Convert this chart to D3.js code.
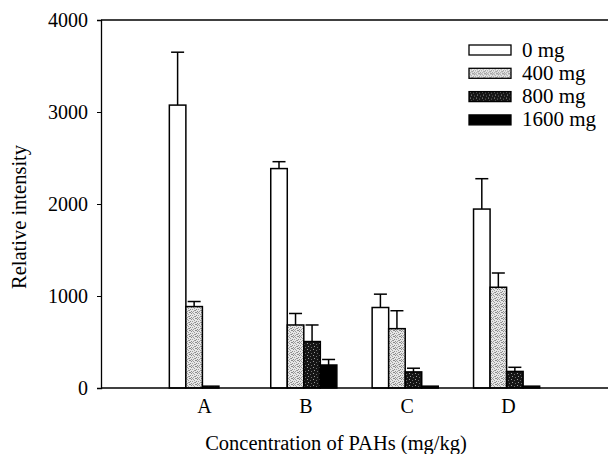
<!DOCTYPE html>
<html>

<head>
    <meta charset="utf-8">
    <script src="https://d3js.org/d3.v7.min.js"></script>
    <style>
        body { margin: 0; background: #fff; }
        text { font-family: "Liberation Serif", "Times New Roman", serif; fill: #000; }
    </style>
</head>

<body>
</body>

<script>
    // data
    let groups = ["A", "B", "C", "D"];
    let doses = ["0 mg", "400 mg", "800 mg", "1600 mg"];
    let mean0 = [3075, 2385, 875, 1945];
    let mean400 = [885, 685, 645, 1095];
    let mean800 = [20, 505, 175, 180];
    let mean1600 = [0, 250, 20, 20];
    let err0 = [575, 75, 145, 330];
    let err400 = [55, 125, 195, 155];
    let err800 = [0, 180, 40, 45];
    let err1600 = [0, 60, 0, 0];
    let yTicks = [0, 1000, 2000, 3000, 4000];

    let means = [mean0, mean400, mean800, mean1600];
    let errs = [err0, err400, err800, err1600];

    let width = 609, height = 454;
    let plotLeft = 101, plotRight = 608, plotTop = 20, plotBottom = 388;

    let svg = d3.select("body").append("svg")
        .attr("width", width)
        .attr("height", height);

    // fill textures (stipple look of the scanned print)
    let defs = svg.append("defs");
    let p400 = defs.append("pattern").attr("id", "p400")
        .attr("width", 6).attr("height", 6).attr("patternUnits", "userSpaceOnUse");
    p400.append("rect").attr("width", 6).attr("height", 6).attr("fill", "#e6e6e6");
    [[0, 0], [3, 0], [1, 1], [5, 1], [2, 2], [4, 3], [0, 3], [3, 4], [1, 5], [5, 5], [2, 4], [4, 0]]
        .forEach(([px, py], i) => {
            p400.append("rect").attr("x", px).attr("y", py).attr("width", 1).attr("height", 1)
                .attr("fill", i % 2 ? "#8a8a8a" : "#a0a0a0");
        });

    let p800 = defs.append("pattern").attr("id", "p800")
        .attr("width", 6).attr("height", 6).attr("patternUnits", "userSpaceOnUse");
    p800.append("rect").attr("width", 6).attr("height", 6).attr("fill", "#151515");
    [[1, 1], [4, 2], [2, 4], [5, 5]].forEach(([px, py], i) => {
        p800.append("rect").attr("x", px).attr("y", py).attr("width", 1).attr("height", 1)
            .attr("fill", i % 2 ? "#6a6a6a" : "#9a9a9a");
    });

    let fills = ["#fff", "url(#p400)", "url(#p800)", "#000"];

    let x = d3.scaleLinear().domain([0, 5]).range([plotLeft, plotRight]);
    let y = d3.scaleLinear().domain([0, 4000]).range([plotBottom, plotTop]);
    let bw = 0.163; // bar width in x units

    let bars = [];
    groups.forEach((g, gi) => {
        doses.forEach((d, di) => {
            bars.push({ g: gi, d: di, v: means[di][gi], e: errs[di][gi] });
        });
    });

    let barX = b => x(b.g + 1 - 2 * bw + b.d * bw);
    let barW = x(bw) - x(0);

    // error bars (upper only)
    let eb = svg.append("g").selectAll("g")
        .data(bars.filter(b => b.e > 0))
        .join("g");
    eb.append("line")
        .attr("x1", b => barX(b) + barW / 2)
        .attr("x2", b => barX(b) + barW / 2)
        .attr("y1", b => y(b.v))
        .attr("y2", b => y(b.v + b.e))
        .attr("stroke", "#000").attr("stroke-width", 1.5);
    eb.append("line")
        .attr("x1", b => barX(b) + barW / 2 - 6.5)
        .attr("x2", b => barX(b) + barW / 2 + 6.5)
        .attr("y1", b => y(b.v + b.e))
        .attr("y2", b => y(b.v + b.e))
        .attr("stroke", "#000").attr("stroke-width", 1.5);

    svg.append("g").selectAll("rect")
        .data(bars.filter(b => b.v > 0))
        .join("rect")
        .attr("x", b => barX(b))
        .attr("y", b => y(b.v))
        .attr("width", barW)
        .attr("height", b => y(0) - y(b.v))
        .attr("fill", b => fills[b.d])
        .attr("stroke", "#000")
        .attr("stroke-width", 1.5);

    // axes
    let yAxis = svg.append("g")
        .attr("transform", `translate(${plotLeft},0)`)
        .call(d3.axisLeft(y).tickValues(yTicks).tickSize(4).tickPadding(9).tickFormat(d3.format("d")));
    yAxis.select(".domain").attr("stroke-width", 1.3);
    yAxis.selectAll("text").style("font-size", "20px").style("font-family", "Liberation Serif");

    svg.append("line")
        .attr("x1", plotLeft).attr("x2", plotRight)
        .attr("y1", plotTop).attr("y2", plotTop)
        .attr("stroke", "#000").attr("stroke-width", 1.3);
    svg.append("line")
        .attr("x1", plotLeft).attr("x2", plotRight)
        .attr("y1", plotBottom).attr("y2", plotBottom)
        .attr("stroke", "#000").attr("stroke-width", 1.3);

    svg.append("g").selectAll("text")
        .data(groups)
        .join("text")
        .attr("x", (d, i) => x(i + 1) + 2)
        .attr("y", 413)
        .attr("text-anchor", "middle")
        .style("font-size", "20px")
        .text(d => d);

    svg.append("text")
        .attr("x", 336)
        .attr("y", 450)
        .attr("text-anchor", "middle")
        .style("font-size", "20.5px")
        .text("Concentration of PAHs (mg/kg)");

    svg.append("text")
        .attr("transform", "translate(26,217) rotate(-90)")
        .attr("text-anchor", "middle")
        .style("font-size", "20.5px")
        .text("Relative intensity");

    // legend
    let lg = svg.append("g").selectAll("g")
        .data(doses)
        .join("g")
        .attr("transform", (d, i) => `translate(469,${50 + i * 23.3})`);
    lg.append("rect")
        .attr("x", 0).attr("y", -5)
        .attr("width", 42).attr("height", 10)
        .attr("fill", (d, i) => fills[i])
        .attr("stroke", "#000").attr("stroke-width", 1.3);
    lg.append("text")
        .attr("x", 53).attr("y", 6.5)
        .style("font-size", "21px")
        .text(d => d);
</script>

</html>
